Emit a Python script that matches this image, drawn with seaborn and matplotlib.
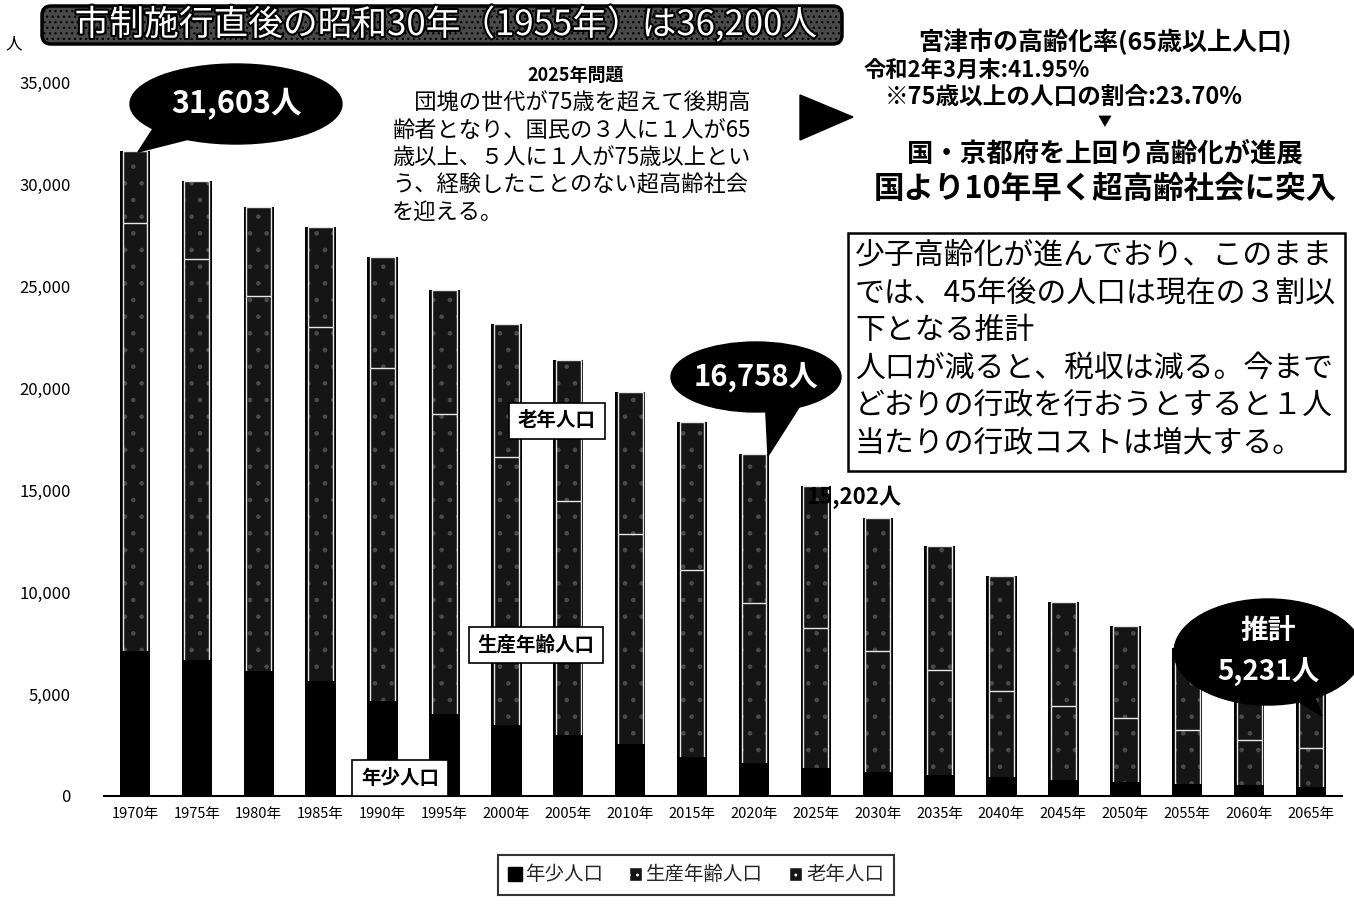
import numpy as np
import pandas as pd
import matplotlib
matplotlib.use("Agg")
import matplotlib.pyplot as plt
import matplotlib.patheffects as pe
from matplotlib.patches import Ellipse, Polygon, FancyBboxPatch, Rectangle, Patch
from matplotlib.transforms import Affine2D
from matplotlib.ticker import FuncFormatter
import seaborn as sns

# ---------------- data ----------------
years = ["1970年", "1975年", "1980年", "1985年", "1990年", "1995年", "2000年",
         "2005年", "2010年", "2015年", "2020年", "2025年", "2030年", "2035年",
         "2040年", "2045年", "2050年", "2055年", "2060年", "2065年"]
young = [7100, 6680, 6150, 5620, 4670, 4000, 3500, 2975, 2540, 1930,
         1600, 1370, 1190, 1030, 950, 790, 700, 600, 520, 460]
working = [21000, 19620, 18350, 17390, 16330, 14725, 13125, 11465, 10320, 9170,
           7860, 6880, 5900, 5160, 4220, 3630, 3110, 2640, 2230, 1880]
old = [3503, 3860, 4350, 4880, 5410, 6075, 6510, 6945, 6950, 7210,
       7298, 6952, 6540, 6050, 5630, 5070, 4540, 4010, 3450, 2891]
series_names = ["年少人口", "生産年齢人口", "老年人口"]
yticks = [0, 5000, 10000, 15000, 20000, 25000, 30000, 35000]

# ---------------- style ----------------
sns.set_theme(style="white")
plt.rcParams['font.family'] = ['Noto Sans CJK JP', 'DejaVu Sans']
plt.rcParams['hatch.linewidth'] = 0.9

W, H = 1354, 906
fig = plt.figure(figsize=(W / 100, H / 100), dpi=100)
fig.patch.set_facecolor("white")
# pixel (top-left origin) transform
T = Affine2D().scale(1 / W, -1 / H).translate(0, 1) + fig.transFigure

ax = fig.add_axes([104 / W, 1 - 796 / H, (1342 - 104) / W, (796 - 82) / H])

df = pd.DataFrame({"year": years, "young": young, "working": working, "old": old})
df["mid"] = df["young"] + df["working"]
df["total"] = df["mid"] + df["old"]

DARK = "#151515"
STIP = "#4a4a4a"

def layer(col, width, **kw):
    sns.barplot(data=df, x="year", y=col, order=years, width=width,
                saturation=1, ax=ax, errorbar=None, **kw)

# old segment (top)
layer("total", 0.49, color="black", linewidth=0)
layer("total", 0.40, color=DARK, edgecolor=STIP, linewidth=0, hatch=".")
layer("total", 0.40, color="#e8e8e8", fill=False, linewidth=1.0)
# working-age segment
layer("mid", 0.49, color="black", linewidth=0)
layer("mid", 0.40, color=DARK, edgecolor=STIP, linewidth=0, hatch=".")
layer("mid", 0.40, color="#e8e8e8", fill=False, linewidth=1.0)
# young segment
layer("young", 0.49, color="black", linewidth=0)

ax.set_ylim(0, 35000)
ax.set_xlim(-0.5, len(years) - 0.5)
ax.set_yticks(yticks)
ax.yaxis.set_major_formatter(FuncFormatter(lambda v, p: f"{int(v):,}"))
ax.set_xlabel("")
ax.set_ylabel("")
for s in ["top", "right", "left"]:
    ax.spines[s].set_visible(False)
ax.spines["bottom"].set_color("black")
ax.spines["bottom"].set_linewidth(1.5)
ax.tick_params(axis="x", labelsize=10.5, length=0, pad=8, colors="black")
ax.tick_params(axis="y", labelsize=12, length=0, pad=24, colors="black")
ax.set_facecolor("none")

# ---------------- decorations (pixel coords) ----------------
def txt(x, y, s, **kw):
    kw.setdefault("color", "black")
    fig.text(x, y, s, transform=T, **kw)

# y unit
txt(14, 44, "人", fontsize=12, ha="center", va="center")

# banner
fig.patches.append(FancyBboxPatch((42, 6), 800, 38, boxstyle="round,pad=0,rounding_size=9",
                                  transform=T, facecolor="#4a4a4a", edgecolor="black",
                                  linewidth=2.5, hatch="..."))
txt(446, 25, "市制施行直後の昭和30年（1955年）は36,200人", fontsize=25,
    ha="center", va="center", color="white",
    path_effects=[pe.withStroke(linewidth=3, foreground="black")])

# bubble helper
def bubble(cx, cy, w, h, tail):
    fig.patches.append(Polygon(tail, closed=True, transform=T, facecolor="black",
                               edgecolor="black"))
    fig.patches.append(Ellipse((cx, cy), w, h, transform=T, facecolor="black",
                               edgecolor="black"))

bubble(236, 104, 212, 80, [(160, 118), (205, 135), (138, 152)])
txt(236, 104, "31,603人", fontsize=22, fontweight="bold", color="white", ha="center", va="center")

bubble(756, 377, 170, 70, [(765, 395), (805, 398), (768, 456)])
txt(756, 377, "16,758人", fontsize=21, fontweight="bold", color="white", ha="center", va="center")

bubble(1268, 652, 188, 106, [(1280, 690), (1312, 690), (1322, 716)])
txt(1268, 632, "推計", fontsize=20, fontweight="bold", color="white", ha="center", va="center")
txt(1268, 672, "5,231人", fontsize=20, fontweight="bold", color="white", ha="center", va="center")

txt(806, 497, "15,202人", fontsize=16, fontweight="bold", ha="left", va="center")

# 2025 problem text
txt(576, 75, "2025年問題", fontsize=13, fontweight="bold", ha="center", va="center")
para = ["　団塊の世代が75歳を超えて後期高",
        "齢者となり、国民の３人に１人が65",
        "歳以上、５人に１人が75歳以上とい",
        "う、経験したことのない超高齢社会",
        "を迎える。"]
for i, line in enumerate(para):
    txt(392, 103 + i * 27.2, line, fontsize=16, ha="left", va="center")

# arrow
fig.patches.append(Polygon([(800, 95), (853, 117), (800, 140)], closed=True,
                           transform=T, facecolor="black", edgecolor="black"))

# right-top text
txt(1105, 42, "宮津市の高齢化率(65歳以上人口)", fontsize=18, fontweight="bold", ha="center", va="center")
txt(864, 70, "令和2年3月末:41.95%", fontsize=16, fontweight="bold", ha="left", va="center")
txt(885, 97, "※75歳以上の人口の割合:23.70%", fontsize=17, fontweight="bold", ha="left", va="center")
txt(1105, 122, "▼", fontsize=10, ha="center", va="center")
txt(1105, 154, "国・京都府を上回り高齢化が進展", fontsize=19, fontweight="bold", ha="center", va="center")
txt(1105, 189, "国より10年早く超高齢社会に突入", fontsize=22, fontweight="bold", ha="center", va="center")

# explanation box
fig.patches.append(Rectangle((848, 233), 497, 238, transform=T, facecolor="white",
                             edgecolor="black", linewidth=1.8))
box_lines = ["少子高齢化が進んでおり、このまま",
             "では、45年後の人口は現在の３割以",
             "下となる推計",
             "人口が減ると、税収は減る。今まで",
             "どおりの行政を行おうとすると１人",
             "当たりの行政コストは増大する。"]
for i, line in enumerate(box_lines):
    txt(855, 255 + i * 37.6, line, fontsize=21.5, ha="left", va="center")

# series labels inside chart
lab_kw = dict(fontsize=14, fontweight="bold", ha="center", va="center",
              bbox=dict(boxstyle="square,pad=0.45", facecolor="white", edgecolor="black", linewidth=1.2))
txt(557, 421, series_names[2], **lab_kw)
txt(536, 645, series_names[1], **lab_kw)
txt(400, 778, series_names[0], **lab_kw)

# legend
handles = [Patch(facecolor="black", edgecolor="black"),
           Patch(facecolor=DARK, edgecolor="white", hatch=".."),
           Patch(facecolor=DARK, edgecolor="white", hatch="..")]
leg = fig.legend(handles, series_names, loc="center", bbox_to_anchor=(696 / W, 1 - 875 / H),
                 ncol=3, frameon=True, fancybox=False, edgecolor="black", fontsize=14,
                 handlelength=0.7, handleheight=0.7, handletextpad=0.2, columnspacing=1.3,
                 borderpad=0.5)
leg.get_frame().set_linewidth(1.5)

fig.savefig("out.png", dpi=100)
